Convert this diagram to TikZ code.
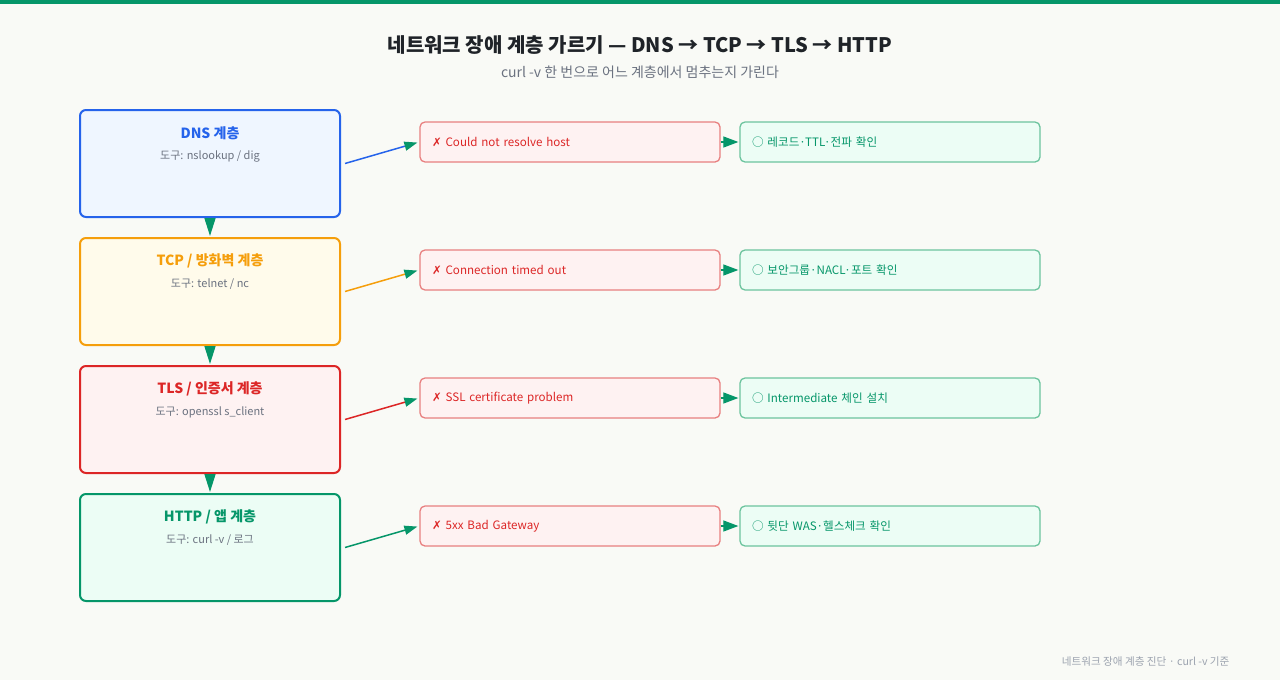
\documentclass[tikz,border=0pt]{standalone}
\usepackage{fontspec}
\setmainfont{Noto Sans CJK KR}
\newfontfamily\symfont{DejaVu Sans}
\usetikzlibrary{arrows.meta}
\definecolor{bg}{HTML}{F9FAF6}
\definecolor{brand}{HTML}{059669}
\definecolor{ink}{HTML}{1F2328}
\definecolor{muted}{HTML}{6B7280}
\definecolor{faint}{HTML}{9CA3AF}
\definecolor{dnsline}{HTML}{2563EB}
\definecolor{dnsfill}{HTML}{EFF6FF}
\definecolor{tcpline}{HTML}{F59E0B}
\definecolor{tcpfill}{HTML}{FFFBEB}
\definecolor{tlsline}{HTML}{DC2626}
\definecolor{tlsfill}{HTML}{FEF2F2}
\definecolor{httpline}{HTML}{059669}
\definecolor{httpfill}{HTML}{ECFDF5}
\definecolor{errline}{HTML}{E88080}
\definecolor{errfill}{HTML}{FEF2F2}
\definecolor{errtext}{HTML}{DC2626}
\definecolor{fixline}{HTML}{6CC49E}
\definecolor{fixfill}{HTML}{ECFDF5}
\definecolor{fixtext}{HTML}{059669}
\tikzset{
    layer/.style = {draw=#1line, fill=#1fill, line width=2pt, rounded corners=6pt,
                    minimum width=260pt, minimum height=107pt},
    ltitle/.style = {text=#1line, font=\fontsize{14}{16}\selectfont\bfseries},
    ltool/.style = {text=muted, font=\fontsize{11}{13}\selectfont},
    errbox/.style = {draw=errline, fill=errfill, text=errtext, line width=1.3pt,
                     rounded corners=5pt, minimum height=40pt, text width=276pt,
                     inner xsep=12pt, align=left, font=\fontsize{11.6}{14}\selectfont},
    fixbox/.style = {errbox, draw=fixline, fill=fixfill, text=fixtext},
    down/.style = {draw=brand, line width=1.5pt, -{Triangle[length=18pt,width=11pt]}, shorten >=1pt},
    tofix/.style = {draw=brand, line width=1.2pt, -{Triangle[length=15pt,width=11pt]}, shorten >=1pt},
    toerr/.style = {draw=#1line, line width=1.5pt, -{Triangle[length=13pt,width=9pt,color=brand]}, shorten >=2pt}
}

\begin{document}
\begin{tikzpicture}[x=1pt,y=-1pt]
\fill[bg] (0,0) rectangle (1280,680);
\useasboundingbox (0,0) rectangle (1280,680);
\fill[brand] (0,0) rectangle (1280,4);

% header
\node[text=ink, font=\fontsize{20}{24}\selectfont\bfseries] (title) at (640,45)
    {네트워크 장애 계층 가르기 — DNS → TCP → TLS → HTTP};
\node[text=muted, font=\fontsize{14}{16}\selectfont] (subtitle) at (640,72)
    {curl -v 한 번으로 어느 계층에서 멈추는지 가린다};

% layers
\node[layer=dns]  (dns)  at (210,163.5) {};
\node[layer=tcp]  (tcp)  at (210,291.5) {};
\node[layer=tls]  (tls)  at (210,419.5) {};
\node[layer=http] (http) at (210,547.5) {};

\node[ltitle=dns]  at (210,133) {DNS 계층};
\node[ltool]       at (210,156) {도구: nslookup / dig};
\node[ltitle=tcp]  at (210,261) {TCP / 방화벽 계층};
\node[ltool]       at (210,284) {도구: telnet / nc};
\node[ltitle=tls]  at (210,389) {TLS / 인증서 계층};
\node[ltool]       at (210,412) {도구: openssl s\_client};
\node[ltitle=http] at (210,517) {HTTP / 앱 계층};
\node[ltool]       at (210,540) {도구: curl -v / 로그};

% symptoms and fixes
\node[errbox] (err1) at (570,142) {{\symfont ✗} Could not resolve host};
\node[errbox] (err2) at (570,270) {{\symfont ✗} Connection timed out};
\node[errbox] (err3) at (570,398) {{\symfont ✗} SSL certificate problem};
\node[errbox] (err4) at (570,526) {{\symfont ✗} 5xx Bad Gateway};

\node[fixbox] (fix1) at (890,142) {○ 레코드·TTL·전파 확인};
\node[fixbox] (fix2) at (890,270) {○ 보안그룹·NACL·포트 확인};
\node[fixbox] (fix3) at (890,398) {○ Intermediate 체인 설치};
\node[fixbox] (fix4) at (890,526) {○ 뒷단 WAS·헬스체크 확인};

% connectors
\draw[down] (dns)  -- (tcp);
\draw[down] (tcp)  -- (tls);
\draw[down] (tls)  -- (http);

\draw[toerr=dns]  ([xshift=4pt]dns.east)  -- (err1.west);
\draw[toerr=tcp]  ([xshift=4pt]tcp.east)  -- (err2.west);
\draw[toerr=tls]  ([xshift=4pt]tls.east)  -- (err3.west);
\draw[toerr=http] ([xshift=4pt]http.east) -- (err4.west);

\draw[tofix] (err1) -- (fix1);
\draw[tofix] (err2) -- (fix2);
\draw[tofix] (err3) -- (fix3);
\draw[tofix] (err4) -- (fix4);

% footer
\node[anchor=east, text=faint, font=\fontsize{10.6}{12}\selectfont] (footer) at (1233,662)
    {네트워크 장애 계층 진단 · curl -v 기준};
\end{tikzpicture}
\end{document}
